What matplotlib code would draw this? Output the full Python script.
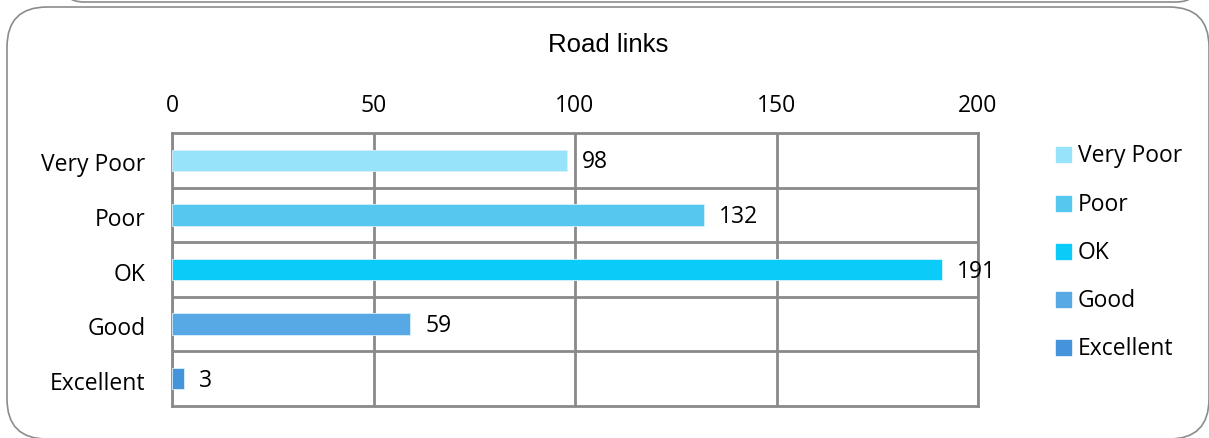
import numpy as np
import matplotlib.pyplot as plt
from matplotlib.patches import FancyBboxPatch

categorias = ["Very Poor", "Poor", "OK", "Good", "Excellent"]
valores = [98, 132, 191, 59, 3]
colores = ["#97E3FA", "#56C7EE", "#0BCBF8", "#56A9E5", "#4593DA"]
ticks_x = [0, 50, 100, 150, 200]

plt.rcParams['font.family'] = ['Open Sans', 'DejaVu Sans']
FS = 16.5

fig = plt.figure(figsize=(12.09, 4.38), dpi=100)

# capa de fondo en pixeles para los marcos redondeados
fondo = fig.add_axes([0, 0, 1, 1], facecolor="none", zorder=-1)
fondo.set_axis_off()
fondo.set_xlim(0, 1209)
fondo.set_ylim(438, 0)
fondo.add_patch(FancyBboxPatch((62, -40), 1136, 42, boxstyle="round,pad=0,rounding_size=22",
                               fill=False, ec="#8c8c8c", lw=1.2))
fondo.add_patch(FancyBboxPatch((7, 7), 1202, 432, boxstyle="round,pad=0,rounding_size=40",
                               fill=False, ec="#8c8c8c", lw=1.2))

ax = fig.add_axes([172 / 1209, 1 - 406 / 438, (978 - 172) / 1209, (406 - 133) / 438])

pos = np.arange(len(categorias))
ax.barh(pos, valores, height=0.39, color=colores, edgecolor="#d8f0fb", lw=0.6, zorder=3)
for p, v in zip(pos, valores):
    ax.text(v + 3.8, p + 0.04, str(v), va="center", ha="left", fontsize=FS, color="black", zorder=4)

ax.set_xlim(0, 200)
ax.set_ylim(len(categorias) - 0.5, -0.5)
ax.set_xticks(ticks_x)
ax.xaxis.tick_top()
ax.tick_params(axis="x", length=0, pad=11, labelsize=FS)
ax.set_yticks(pos + 0.04)
ax.set_yticklabels(categorias)
ax.tick_params(axis="y", length=0, pad=19, labelsize=FS)
for x in ticks_x:
    ax.axvline(x, color="#8a8a8a", lw=2, zorder=1)
for y in np.arange(0.5, len(categorias) - 0.5, 1):
    ax.axhline(y, color="#8a8a8a", lw=2, zorder=1)
for s in ax.spines.values():
    s.set_color("#8a8a8a")
    s.set_linewidth(2)

fondo.text(608, 45, "Road links", ha="center", va="center",
           fontsize=18.5, family=["Liberation Sans", "DejaVu Sans"])

# leyenda a mano
ley_y = [154, 203, 251, 299, 347]
for cat, c, yy in zip(categorias, colores, ley_y):
    fondo.add_patch(plt.Rectangle((1056, yy - 7), 15, 15, color=c))
    fondo.text(1078, yy + 2, cat, va="center", ha="left", fontsize=FS)

fig.savefig("out.png", dpi=100)
